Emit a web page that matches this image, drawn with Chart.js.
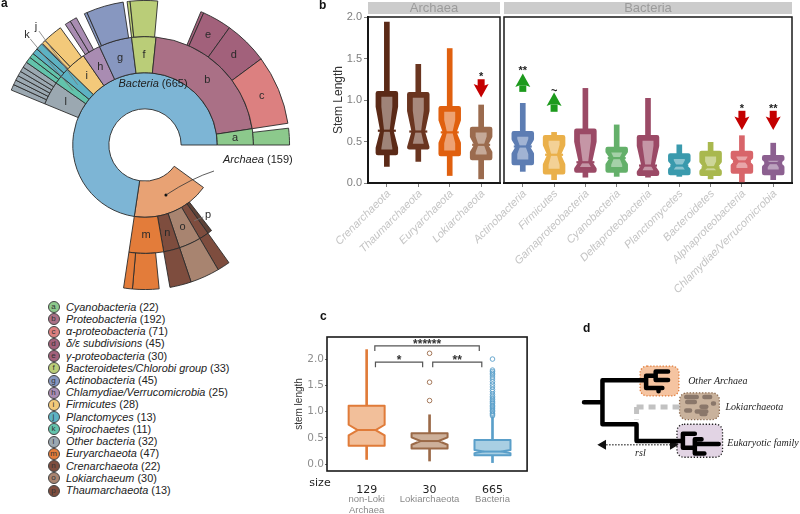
<!DOCTYPE html>
<html>
<head>
<meta charset="utf-8">
<title>Stem length by taxon</title>
<script src="https://cdn.jsdelivr.net/npm/chart.js@4.4.1/dist/chart.umd.min.js"></script>
<style>
  body { margin: 0; background: #fff; font-family: "Liberation Sans", Arial, sans-serif; }
  #page { position: relative; width: 800px; height: 514px; overflow: hidden; }
  canvas { position: absolute; }
  .tag { position: absolute; font: bold 12px/12px "Liberation Sans", Arial, sans-serif; color: #111; }
  .row { position: absolute; left: 0; height: 12px; line-height: 12px; white-space: nowrap; font-size: 10.9px; color: #222; }
  .dot { position: absolute; left: 47.5px; top: 0.5px; width: 10px; height: 10px; border-radius: 50%; border: 0.8px solid #444;
         font-size: 8px; line-height: 10px; text-align: center; color: #333; }
  .name { position: absolute; left: 66px; }
</style>
</head>
<body>
<div id="page">
  <canvas id="sunburst" width="330" height="290" style="left:0;top:0"></canvas>
  <canvas id="archaeaBox" width="177" height="300" style="left:325px;top:0"></canvas>
  <canvas id="bacteriaBox" width="396" height="300" style="left:404px;top:0"></canvas>
  <canvas id="groupBox" width="242" height="214" style="left:290px;top:300px"></canvas>
  <canvas id="treeSketch" width="260" height="204" style="left:540px;top:310px"></canvas>
  <div class="tag" style="left:1px;top:-3px">a</div>
  <div class="tag" style="left:319px;top:-1px">b</div>
  <div class="tag" style="left:320px;top:310px">c</div>
  <div class="tag" style="left:583px;top:322px">d</div>
  <div id="legend"></div>
</div>
<script>
const family = '"Liberation Sans", Arial, sans-serif';
Chart.defaults.font.family = family;

// ---------------- panel a : sunburst ----------------
const emptyWedge = 91.6;   // the unused wedge on the right of the sunburst
const domainKeys = ['-', 'A', 'B'];
const domainCounts = [emptyWedge, 159, 665];

const taxonKeys = ['a', 'b', 'c', 'd', 'e', 'f', 'g', 'h', 'i', 'j', 'k', 'l', 'm', 'n', 'o', 'p'];
const taxonNames = ['Cyanobacteria', 'Proteobacteria', 'α-proteobacteria', 'δ/ε subdivisions', 'γ-proteobacteria',
  'Bacteroidetes/Chlorobi group', 'Actinobacteria', 'Chlamydiae/Verrucomicrobia', 'Firmicutes', 'Planctomyces',
  'Spirochaetes', 'Other bacteria', 'Euryarchaeota', 'Crenarchaeota', 'Lokiarchaeum', 'Thaumarchaeota'];
const taxonCounts = [22, 192, 71, 45, 30, 33, 45, 25, 28, 13, 11, 32, 47, 22, 30, 13];

const ring2Keys = ['-', '-', 'x', 'p', 'o', 'n', 'm', '-', 'l', 'k', 'j', 'i', 'h', 'g', 'f', 'b', 'a'];
const ring2Counts = [emptyWedge, 41, 6, 13, 30, 22, 47, 264, 32, 11, 13, 28, 25, 45, 33, 192, 22];

const ring3Keys = ['-', '-', 'p', 'o', 'n', '-', 'm', 'm', '-', 'l', 'l', 'l', 'l', 'l', 'l', 'k', 'k', 'j', 'j',
  '-', 'i', 'i', '-', '-', 'h', 'h', '-', 'g', 'g', '-', 'f', 'f', '-', '-', 'e', 'e', 'd', 'c', '-', 'a'];
const ring3Counts = [emptyWedge, 47, 13, 30, 22, 11, 27, 9, 264, 6, 5, 5, 5, 5, 6, 6, 5, 6, 7,
  1, 4, 20, 3, 3, 6, 7, 9, 3, 38, 4, 3, 28, 2, 43, 3, 30, 45, 71, 5, 17];

const taxonColors = {
  A: '#e8a274', B: '#7db5d5', a: '#8cc98c', b: '#aa7086', c: '#dc8080', d: '#a2617b', e: '#a2617b',
  f: '#bacd78', g: '#8797c0', h: '#a98cb2', i: '#f3c97a', j: '#5db2c3', k: '#62c3ab', l: '#9ba8b1',
  m: '#e37c3a', n: '#7e4d3e', o: '#a88470', p: '#7e4d3e', x: '#5e4237'
};
const outsideLetterPos = {k: [27, 35], j: [36, 27], p: [208, 215]};

function ringDataset(keys, counts, letters) {
  return {
    data: counts,
    backgroundColor: keys.map(k => k === '-' ? 'rgba(0,0,0,0)' : taxonColors[k]),
    borderColor: keys.map(k => k === '-' ? 'rgba(0,0,0,0)' : '#2b2b2b'),
    borderWidth: 0.9,
    hoverOffset: 0,
    letters: letters
  };
}

function drawMixed(ctx, italicPart, plainPart, x, y, centred) {
  ctx.font = 'italic 11px ' + family;
  const w1 = ctx.measureText(italicPart).width;
  ctx.font = '11px ' + family;
  const w2 = ctx.measureText(plainPart).width;
  const x0 = centred ? x - (w1 + w2) / 2 : x;
  ctx.textAlign = 'left';
  ctx.font = 'italic 11px ' + family;
  ctx.fillText(italicPart, x0, y);
  ctx.font = '11px ' + family;
  ctx.fillText(plainPart, x0 + w1, y);
}

const sunburstText = {
  id: 'sunburstText',
  afterDatasetsDraw(chart) {
    const ctx = chart.ctx;
    ctx.save();
    ctx.textAlign = 'center';
    ctx.textBaseline = 'middle';
    ctx.font = '11px ' + family;
    ctx.fillStyle = '#2a2a2a';
    chart.data.datasets.forEach((ds, di) => {
      const arcs = chart.getDatasetMeta(di).data;
      (ds.letters || []).forEach((t, i) => {
        if (!t) return;
        const p = arcs[i].getCenterPoint();
        ctx.fillText(t, p.x, p.y);
      });
    });
    // letters placed outside, with leader lines
    const ring2 = chart.getDatasetMeta(1).data;
    ctx.strokeStyle = '#777';
    ctx.lineWidth = 0.8;
    Object.entries(outsideLetterPos).forEach(([k, [lx, ly]]) => {
      const p = ring2[ring2Keys.indexOf(k)].getCenterPoint();
      const dx = p.x - lx, dy = p.y - ly, d = Math.hypot(dx, dy);
      ctx.beginPath();
      ctx.moveTo(lx + dx / d * 5, ly + dy / d * 5);
      ctx.lineTo(p.x, p.y);
      ctx.stroke();
      ctx.fillText(k, lx, ly);
    });
    // domain captions
    const arch = chart.getDatasetMeta(2).data[1].getCenterPoint();
    ctx.fillStyle = '#111';
    ctx.beginPath();
    ctx.arc(arch.x, arch.y, 1.5, 0, Math.PI * 2);
    ctx.fill();
    ctx.strokeStyle = '#333';
    ctx.beginPath();
    ctx.moveTo(arch.x, arch.y);
    ctx.quadraticCurveTo(192, 178, 214, 171);
    ctx.stroke();
    ctx.fillStyle = '#222';
    drawMixed(ctx, 'Archaea', ' (' + domainCounts[1] + ')', 223, 160, false);
    drawMixed(ctx, 'Bacteria', ' (' + domainCounts[2] + ')', 153, 84, true);
    ctx.restore();
  }
};

const ring2Letters = ring2Keys.map(k => 'abfghilmno'.includes(k) ? k : '');
const ring3Letters = ring3Keys.map((k, i) => 'cde'.includes(k) && ring3Counts[i] > 5 ? k : '');

new Chart(document.getElementById('sunburst'), {
  type: 'doughnut',
  data: {
    labels: ring3Keys,
    datasets: [
      ringDataset(ring3Keys, ring3Counts, ring3Letters),
      ringDataset(ring2Keys, ring2Counts, ring2Letters),
      ringDataset(domainKeys, domainCounts, [])
    ]
  },
  options: {
    responsive: false,
    animation: false,
    events: [],
    rotation: 90,
    cutout: '25%',
    layout: {padding: {right: 40}},
    plugins: {legend: {display: false}, tooltip: {enabled: false}}
  },
  plugins: [sunburstText]
});

// legend of panel a
const legendBox = document.getElementById('legend');
taxonKeys.forEach((k, i) => {
  const row = document.createElement('div');
  row.className = 'row';
  row.style.top = (300.7 + i * 12.22) + 'px';
  row.innerHTML = '<span class="dot" style="background:' + taxonColors[k] + '">' + k + '</span>' +
    '<span class="name"><i>' + taxonNames[i] + '</i> (' + taxonCounts[i] + ')</span>';
  legendBox.appendChild(row);
});

// ---------------- panel b : stem length per group ----------------
const stemTicks = [0, 0.5, 1, 1.5, 2];

const archaeaGroups = ['Crenarchaeota', 'Thaumarchaeota', 'Euryarchaeota', 'Lokiarchaeota'];
const archaeaLow = [0.20, 0.26, 0.09, 0.05];
const archaeaQ1 = [0.36, 0.43, 0.35, 0.30];
const archaeaMedian = [0.63, 0.62, 0.61, 0.46];
const archaeaQ3 = [1.08, 1.07, 0.90, 0.65];
const archaeaHigh = [1.94, 1.43, 1.62, 0.94];
const archaeaNotchLo = [0.42, 0.43, 0.48, 0.37];
const archaeaNotchHi = [0.92, 0.87, 0.76, 0.56];
const archaeaColors = ['#5b2a17', '#6a3520', '#e0600f', '#9b6b4e'];
const archaeaArrowAt = [3];
const archaeaArrowTail = [1.25];
const archaeaArrowTip = [1.03];
const archaeaArrowMark = ['*'];

const bacteriaGroups = ['Actinobacteria', 'Firmicutes', 'Gamaproteobacteria', 'Cyanobacteria', 'Deltaproteobacteria',
  'Planctomycetes', 'Bacteroidetes', 'Alphaproteobacteria', 'Chlamydiae/Verrucomicrobia'];
const bacteriaLow = [0.14, 0.04, 0.07, 0.08, 0.07, 0.08, 0.05, -0.05, 0.04];
const bacteriaQ1 = [0.24, 0.13, 0.15, 0.15, 0.11, 0.12, 0.11, 0.14, 0.12];
const bacteriaMedian = [0.44, 0.34, 0.25, 0.30, 0.21, 0.21, 0.19, 0.26, 0.24];
const bacteriaQ3 = [0.60, 0.55, 0.63, 0.41, 0.55, 0.33, 0.36, 0.36, 0.31];
const bacteriaHigh = [0.96, 0.61, 1.14, 0.70, 1.02, 0.46, 0.49, 0.57, 0.48];
const bacteriaNotchLo = [0.35, 0.22, 0.17, 0.22, 0.13, 0.16, 0.14, 0.21, 0.19];
const bacteriaNotchHi = [0.53, 0.46, 0.50, 0.38, 0.45, 0.27, 0.26, 0.31, 0.29];
const bacteriaColors = ['#5d7db3', '#eab04a', '#9b4a66', '#64b06a', '#9b4a66', '#3a9aad', '#a9b84e', '#d8656a', '#8c6090'];
const bacteriaArrowAt = [0, 1, 7, 8];
const bacteriaArrowTail = [1.11, 0.87, 0.87, 0.87];
const bacteriaArrowTip = [1.32, 1.09, 0.64, 0.64];
const bacteriaArrowMark = ['**', '~', '*', '**'];

function notchPath(ctx, cx, hw, top, nhi, med, nlo, bot) {
  const nw = hw * 0.5;
  ctx.beginPath();
  ctx.moveTo(cx - hw, top);
  ctx.lineTo(cx + hw, top);
  ctx.lineTo(cx + hw, nhi);
  ctx.lineTo(cx + nw, med);
  ctx.lineTo(cx + hw, nlo);
  ctx.lineTo(cx + hw, bot);
  ctx.lineTo(cx - hw, bot);
  ctx.lineTo(cx - hw, nlo);
  ctx.lineTo(cx - nw, med);
  ctx.lineTo(cx - hw, nhi);
  ctx.closePath();
}

// boxes are drawn on the chart's own x / y scales
function notchedBoxes(st) {
  return {
    id: 'notchedBoxes',
    afterDatasetsDraw(chart) {
      const {ctx, chartArea: a, scales: {x, y}} = chart;
      ctx.save();
      ctx.beginPath();
      ctx.rect(a.left, a.top, a.right - a.left, a.bottom - a.top);
      ctx.clip();
      ctx.lineJoin = 'round';
      st.q1.forEach((_, i) => {
        const cx = x.getPixelForValue(i);
        const top = y.getPixelForValue(st.q3[i]);
        const bot = y.getPixelForValue(st.q1[i]);
        const med = y.getPixelForValue(st.med[i]);
        const nhi = Math.max(top, y.getPixelForValue(st.notchHi[i]));
        const nlo = Math.min(bot, y.getPixelForValue(st.notchLo[i]));
        if (st.heavy) {
          notchPath(ctx, cx, st.half, top, nhi, med, nlo, bot);
          ctx.fillStyle = st.colors[i];
          ctx.fill();
          ctx.strokeStyle = st.colors[i];
          ctx.lineWidth = 4.5;
          ctx.stroke();
          const it = top + 3.5, ib = bot - 3.5;
          notchPath(ctx, cx, st.half - 3.5, it, Math.max(it, nhi), med, Math.min(ib, nlo), ib);
          ctx.fillStyle = 'rgba(255,255,255,0.42)';
          ctx.fill();
          ctx.strokeStyle = st.colors[i];
          ctx.lineWidth = 2.2;
          ctx.beginPath();
          ctx.moveTo(cx - st.half, med);
          ctx.lineTo(cx + st.half, med);
          ctx.stroke();
        } else {
          notchPath(ctx, cx, st.half, top, nhi, med, nlo, bot);
          ctx.fillStyle = st.fills[i];
          ctx.fill();
          ctx.strokeStyle = st.colors[i];
          ctx.lineWidth = 2;
          ctx.stroke();
          ctx.beginPath();
          ctx.moveTo(cx - st.half * 0.5, med);
          ctx.lineTo(cx + st.half * 0.5, med);
          ctx.stroke();
        }
      });
      ctx.restore();
    }
  };
}

function markerArrows(ar) {
  return {
    id: 'markerArrows',
    afterDatasetsDraw(chart) {
      const {ctx, scales: {x, y}} = chart;
      ctx.save();
      ar.at.forEach((idx, k) => {
        const cx = x.getPixelForValue(idx);
        const yTail = y.getPixelForValue(ar.tail[k]);
        const yTip = y.getPixelForValue(ar.tip[k]);
        const dir = Math.sign(yTip - yTail);
        const head = 12;
        const base = yTip - dir * head;
        ctx.fillStyle = dir < 0 ? '#1d9a1d' : '#c40000';
        ctx.fillRect(cx - 3.5, Math.min(yTail, base), 7, Math.abs(base - yTail) + 1);
        ctx.beginPath();
        ctx.moveTo(cx, yTip);
        ctx.lineTo(cx - 7.5, base - dir * 1.5);
        ctx.lineTo(cx - 3.5, base);
        ctx.lineTo(cx + 3.5, base);
        ctx.lineTo(cx + 7.5, base - dir * 1.5);
        ctx.closePath();
        ctx.fill();
        ctx.fillStyle = '#222';
        ctx.font = 'bold 11px ' + family;
        ctx.textAlign = 'center';
        ctx.fillText(ar.mark[k], cx, Math.min(yTail, yTip) + 1);
      });
      ctx.restore();
    }
  };
}

// facet strip, panel frame and the slanted group names under each tick
function stripAndFrame(label, names) {
  return {
    id: 'stripAndFrame',
    afterDraw(chart) {
      const {ctx, chartArea: a, scales: {x}} = chart;
      ctx.save();
      ctx.fillStyle = '#cccccc';
      ctx.fillRect(a.left, 2, a.right - a.left, 12);
      ctx.fillStyle = '#9b9b9b';
      ctx.font = '13px ' + family;
      ctx.textAlign = 'center';
      ctx.textBaseline = 'middle';
      ctx.fillText(label, (a.left + a.right) / 2, 8.5);
      ctx.strokeStyle = '#1a1a1a';
      ctx.lineWidth = 1.5;
      ctx.strokeRect(a.left, a.top, a.right - a.left, a.bottom - a.top);
      ctx.fillStyle = '#c4c4c4';
      ctx.font = 'italic 11px ' + family;
      ctx.textAlign = 'right';
      names.forEach((t, i) => {
        ctx.save();
        ctx.translate(x.getPixelForValue(i) + 2, a.bottom + 9);
        ctx.rotate(-Math.PI / 4);
        ctx.fillText(t, 0, 0);
        ctx.restore();
      });
      ctx.restore();
    }
  };
}

function stemPanel(canvasId, p) {
  return new Chart(document.getElementById(canvasId), {
    type: 'bar',
    data: {
      datasets: [{
        data: p.low.map((v, i) => ({x: i, y: [v, p.high[i]]})),
        backgroundColor: p.colors,
        barThickness: 5,
        borderWidth: 0
      }]
    },
    options: {
      responsive: false,
      animation: false,
      events: [],
      layout: {padding: p.padding},
      plugins: {legend: {display: false}, tooltip: {enabled: false}},
      scales: {
        x: {
          type: 'linear', offset: false,
          min: -0.6, max: p.names.length - 0.4,
          afterBuildTicks: s => { s.ticks = p.names.map((_, i) => ({value: i})); },
          afterFit: s => { s.height = 117; },
          ticks: {display: false},
          grid: {drawOnChartArea: false, offset: false, tickLength: 4, color: '#7f7f7f'},
          border: {color: '#111', width: 2}
        },
        y: {
          display: p.showY,
          min: 0, max: 2,
          afterBuildTicks: s => { s.ticks = stemTicks.map(v => ({value: v})); },
          afterFit: s => { s.width = p.showY ? 43 : 0; },
          ticks: {callback: v => v.toFixed(1), color: '#7f7f7f', font: {size: 11}, padding: 2},
          grid: {drawOnChartArea: false, tickLength: 4, color: '#7f7f7f'},
          border: {color: '#111', width: 2},
          title: {display: true, text: 'Stem Length', color: '#333', font: {size: 12}, padding: {top: 6, bottom: 0}}
        }
      }
    },
    plugins: [
      stripAndFrame(p.strip, p.names),
      notchedBoxes({q1: p.q1, med: p.med, q3: p.q3, notchLo: p.notchLo, notchHi: p.notchHi,
        colors: p.colors, half: 9, heavy: true}),
      markerArrows(p.arrows)
    ]
  });
}

stemPanel('archaeaBox', {
  strip: 'Archaea', names: archaeaGroups, showY: true, padding: {top: 17, right: 2, left: 0, bottom: 0},
  low: archaeaLow, q1: archaeaQ1, med: archaeaMedian, q3: archaeaQ3, high: archaeaHigh,
  notchLo: archaeaNotchLo, notchHi: archaeaNotchHi, colors: archaeaColors,
  arrows: {at: archaeaArrowAt, tail: archaeaArrowTail, tip: archaeaArrowTip, mark: archaeaArrowMark}
});
stemPanel('bacteriaBox', {
  strip: 'Bacteria', names: bacteriaGroups, showY: false, padding: {top: 17, right: 8, left: 100, bottom: 0},
  low: bacteriaLow, q1: bacteriaQ1, med: bacteriaMedian, q3: bacteriaQ3, high: bacteriaHigh,
  notchLo: bacteriaNotchLo, notchHi: bacteriaNotchHi, colors: bacteriaColors,
  arrows: {at: bacteriaArrowAt, tail: bacteriaArrowTail, tip: bacteriaArrowTip, mark: bacteriaArrowMark}
});

// ---------------- panel c : three pooled groups ----------------
const pooledNames = [['non-Loki', 'Archaea'], ['Lokiarchaeota'], ['Bacteria']];
const pooledSizes = [129, 30, 665];
const pooledLow = [0.09, 0.06, 0.03];
const pooledQ1 = [0.35, 0.30, 0.17];
const pooledMedian = [0.65, 0.44, 0.24];
const pooledQ3 = [1.11, 0.59, 0.46];
const pooledHigh = [2.18, 0.94, 0.90];
const pooledNotchLo = [0.55, 0.37, 0.21];
const pooledNotchHi = [0.75, 0.51, 0.27];
const pooledColors = ['#e07b39', '#9b6a48', '#5a9fc9'];
const pooledFills = ['#f2bf9a', '#cdb09a', '#a9cfe3'];
const lokiOutliers = [2.11, 1.56, 1.21];
const bacteriaOutliers = [0.92, 0.95, 0.97, 1.0, 1.02, 1.05, 1.07, 1.1, 1.12, 1.15, 1.18, 1.2, 1.23, 1.26, 1.29,
  1.33, 1.38, 1.42, 1.47, 1.52, 1.57, 1.62, 1.66, 1.7, 1.73, 1.76, 1.79, 2.0];
const bracketFrom = [0.13, 0.14, 1.05];
const bracketTo = [1.79, 0.89, 1.83];
const bracketLevel = [2.25, 1.94, 1.94];
const bracketMark = ['******', '*', '**'];

const pooledDecor = {
  id: 'pooledDecor',
  afterDraw(chart) {
    const {ctx, chartArea: a, scales: {x, y}} = chart;
    ctx.save();
    ctx.strokeStyle = '#1a1a1a';
    ctx.lineWidth = 1.6;
    ctx.strokeRect(a.left, a.top, a.right - a.left, a.bottom - a.top);
    // significance brackets
    ctx.strokeStyle = '#555';
    ctx.lineWidth = 1.2;
    ctx.fillStyle = '#333';
    ctx.font = 'bold 12px ' + family;
    ctx.textAlign = 'center';
    bracketFrom.forEach((f, i) => {
      const x0 = x.getPixelForValue(f), x1 = x.getPixelForValue(bracketTo[i]), yy = y.getPixelForValue(bracketLevel[i]);
      ctx.beginPath();
      ctx.moveTo(x0, yy + 5); ctx.lineTo(x0, yy); ctx.lineTo(x1, yy); ctx.lineTo(x1, yy + 5);
      ctx.stroke();
      ctx.fillText(bracketMark[i], (x0 + x1) / 2, yy + 2);
    });
    // size row and group names
    ctx.fillStyle = '#222';
    ctx.font = '11px "DejaVu Sans", sans-serif';
    ctx.textBaseline = 'middle';
    ctx.fillText('size', 30, 183);
    ctx.fillStyle = '#8a8a8a';
    ctx.font = '9.5px ' + family;
    pooledNames.forEach((lines, i) => {
      lines.forEach((t, j) => ctx.fillText(t, x.getPixelForValue(i), 199 + j * 11.5));
    });
    ctx.restore();
  }
};

new Chart(document.getElementById('groupBox'), {
  type: 'bar',
  data: {
    datasets: [
      {
        data: pooledLow.map((v, i) => ({x: i, y: [v, pooledHigh[i]]})),
        backgroundColor: pooledColors,
        barThickness: 2,
        borderWidth: 0
      },
      {
        type: 'scatter',
        data: lokiOutliers.map(v => ({x: 1, y: v})),
        borderColor: pooledColors[1], backgroundColor: 'rgba(0,0,0,0)',
        pointRadius: 2.3, borderWidth: 0.9
      },
      {
        type: 'scatter',
        data: bacteriaOutliers.map(v => ({x: 2, y: v})),
        borderColor: pooledColors[2], backgroundColor: 'rgba(0,0,0,0)',
        pointRadius: 2.3, borderWidth: 0.9
      }
    ]
  },
  options: {
    responsive: false,
    animation: false,
    events: [],
    layout: {padding: {top: 37, right: 4, left: 0, bottom: 0}},
    plugins: {legend: {display: false}, tooltip: {enabled: false}},
    scales: {
      x: {
        type: 'linear', offset: false, min: -0.63, max: 2.55,
        afterBuildTicks: s => { s.ticks = pooledSizes.map((_, i) => ({value: i})); },
        afterFit: s => { s.height = 43; s.paddingLeft = 0; s.paddingRight = 0; },
        ticks: {callback: v => String(pooledSizes[v]), color: '#222', font: {size: 11, family: '"DejaVu Sans", sans-serif'}, padding: 5, maxRotation: 0},
        grid: {display: false},
        border: {display: false}
      },
      y: {
        min: -0.13, max: 2.42,
        afterBuildTicks: s => { s.ticks = [0, 0.5, 1, 1.5, 2].map(v => ({value: v})); },
        afterFit: s => { s.width = 37; },
        ticks: {callback: v => v.toFixed(1), color: '#8e8e8e', font: {size: 10.5, family: '"DejaVu Sans", sans-serif'}, padding: 1},
        grid: {drawOnChartArea: false, tickLength: 2, color: '#666'},
        border: {display: false},
        title: {display: true, text: 'stem length', color: '#333', font: {size: 10}, padding: {top: 3, bottom: 0}}
      }
    }
  },
  plugins: [
    notchedBoxes({q1: pooledQ1, med: pooledMedian, q3: pooledQ3, notchLo: pooledNotchLo, notchHi: pooledNotchHi,
      colors: pooledColors, fills: pooledFills, half: 18, heavy: false}),
    pooledDecor
  ]
});

// ---------------- panel d : schematic tree (panel units = px from its corner) ----------------
const treeBranches = [
  [[40, 91.7], [59.3, 91.7]],
  [[105, 68.3], [59.3, 68.3], [59.3, 115], [95, 115], [95, 132.7], [143.5, 132.7]],
  [[105, 63.5], [105, 76.5]],
  [[105, 63.5], [115, 63.5]],
  [[115, 59], [115, 68]],
  [[115, 59], [128, 59]],
  [[115, 68], [128, 68]],
  [[105, 76.5], [122, 76.5]],
  [[118, 76.5], [118, 80]],
  [[143.5, 125], [143.5, 140]],
  [[143.5, 125], [156, 125]],
  [[143.5, 140], [156, 140]],
  [[156, 131], [156, 146]],
  [[156, 136], [181, 136]],
  [[156, 146], [166, 146]],
  [[156, 131], [163, 131]]
];
const lokiPlacement = [[[95, 96.7], [140, 96.7]], [[95, 96.7], [95, 110]]];
const lokiBlobs = [
  [[147, 86], [158, 86]], [[166, 86], [172, 86]], [[148, 91.5], [156, 91.5]], [[175, 93], [176, 93]],
  [[163, 96.5], [168, 96.5]], [[147, 100.5], [151, 100.5]], [[158, 101.5], [168, 101.5]], [[163, 104], [167, 104]]
];
const rslLine = [[60, 136.7], [133, 136.7]];
const cladeBoxes = [[98.7, 53.3, 139.3, 85], [140, 81.7, 181.7, 110], [137.3, 115, 185, 150]];
const cladeFills = ['#f5c4a1', '#c9b29c', '#e2d4e4'];
const cladeEdges = ['#e07b39', '#8b6a50', '#222'];
const cladeNames = ['Other Archaea', 'Lokiarchaeota', 'Eukaryotic family', 'rsl'];
const cladeNameAt = [[149, 70], [188, 97], [190, 135.5], [99, 146]];

const toPoints = segs => segs.flatMap(s => [...s.map(([x, y]) => ({x, y})), {x: s[0][0], y: null}]);

const cladeDecor = {
  id: 'cladeDecor',
  beforeDatasetsDraw(chart) {
    const {ctx, scales: {x, y}} = chart;
    ctx.save();
    cladeBoxes.forEach(([x0, y0, x1, y1], i) => {
      const px = x.getPixelForValue(x0), py = y.getPixelForValue(y0);
      const w = x.getPixelForValue(x1) - px, h = y.getPixelForValue(y1) - py;
      ctx.beginPath();
      ctx.roundRect(px, py, w, h, 7);
      ctx.fillStyle = cladeFills[i];
      ctx.fill();
      ctx.setLineDash([1.3, 1.8]);
      ctx.lineWidth = 1.3;
      ctx.strokeStyle = cladeEdges[i];
      ctx.stroke();
    });
    ctx.restore();
  },
  afterDatasetsDraw(chart) {
    const {ctx, scales: {x, y}} = chart;
    ctx.save();
    ctx.fillStyle = '#222';
    ctx.font = 'italic 10px "Liberation Serif", "DejaVu Serif", serif';
    ctx.textBaseline = 'middle';
    cladeNames.forEach((t, i) => {
      ctx.textAlign = i === 3 ? 'center' : 'left';
      ctx.fillText(t, x.getPixelForValue(cladeNameAt[i][0]), y.getPixelForValue(cladeNameAt[i][1]));
    });
    ctx.restore();
  }
};

new Chart(document.getElementById('treeSketch'), {
  type: 'scatter',
  data: {
    datasets: [
      {type: 'line', data: toPoints(lokiPlacement), borderColor: '#c2c2c2', borderWidth: 5, borderDash: [7, 5],
        pointRadius: 0, spanGaps: false, clip: false},
      {type: 'line', data: toPoints(lokiBlobs), borderColor: '#8a776a', borderWidth: 4.5, borderCapStyle: 'round',
        pointRadius: 0, spanGaps: false, clip: false},
      {type: 'line', data: toPoints(treeBranches), borderColor: '#000', borderWidth: 4.5, borderCapStyle: 'round',
        borderJoinStyle: 'round', pointRadius: 0, spanGaps: false, clip: false},
      {type: 'line', data: rslLine.map(([x, y]) => ({x, y})), borderColor: '#555', borderWidth: 1.3,
        borderDash: [1.5, 1.5], pointStyle: 'triangle', pointRadius: 4.5, pointRotation: [270, 90],
        pointBackgroundColor: '#111', pointBorderColor: '#111', clip: false}
    ]
  },
  options: {
    responsive: false,
    animation: false,
    events: [],
    plugins: {legend: {display: false}, tooltip: {enabled: false}},
    scales: {
      x: {type: 'linear', min: 0, max: 260, display: false},
      y: {type: 'linear', min: 0, max: 204, reverse: true, display: false}
    }
  },
  plugins: [cladeDecor]
});
</script>
</body>
</html>
